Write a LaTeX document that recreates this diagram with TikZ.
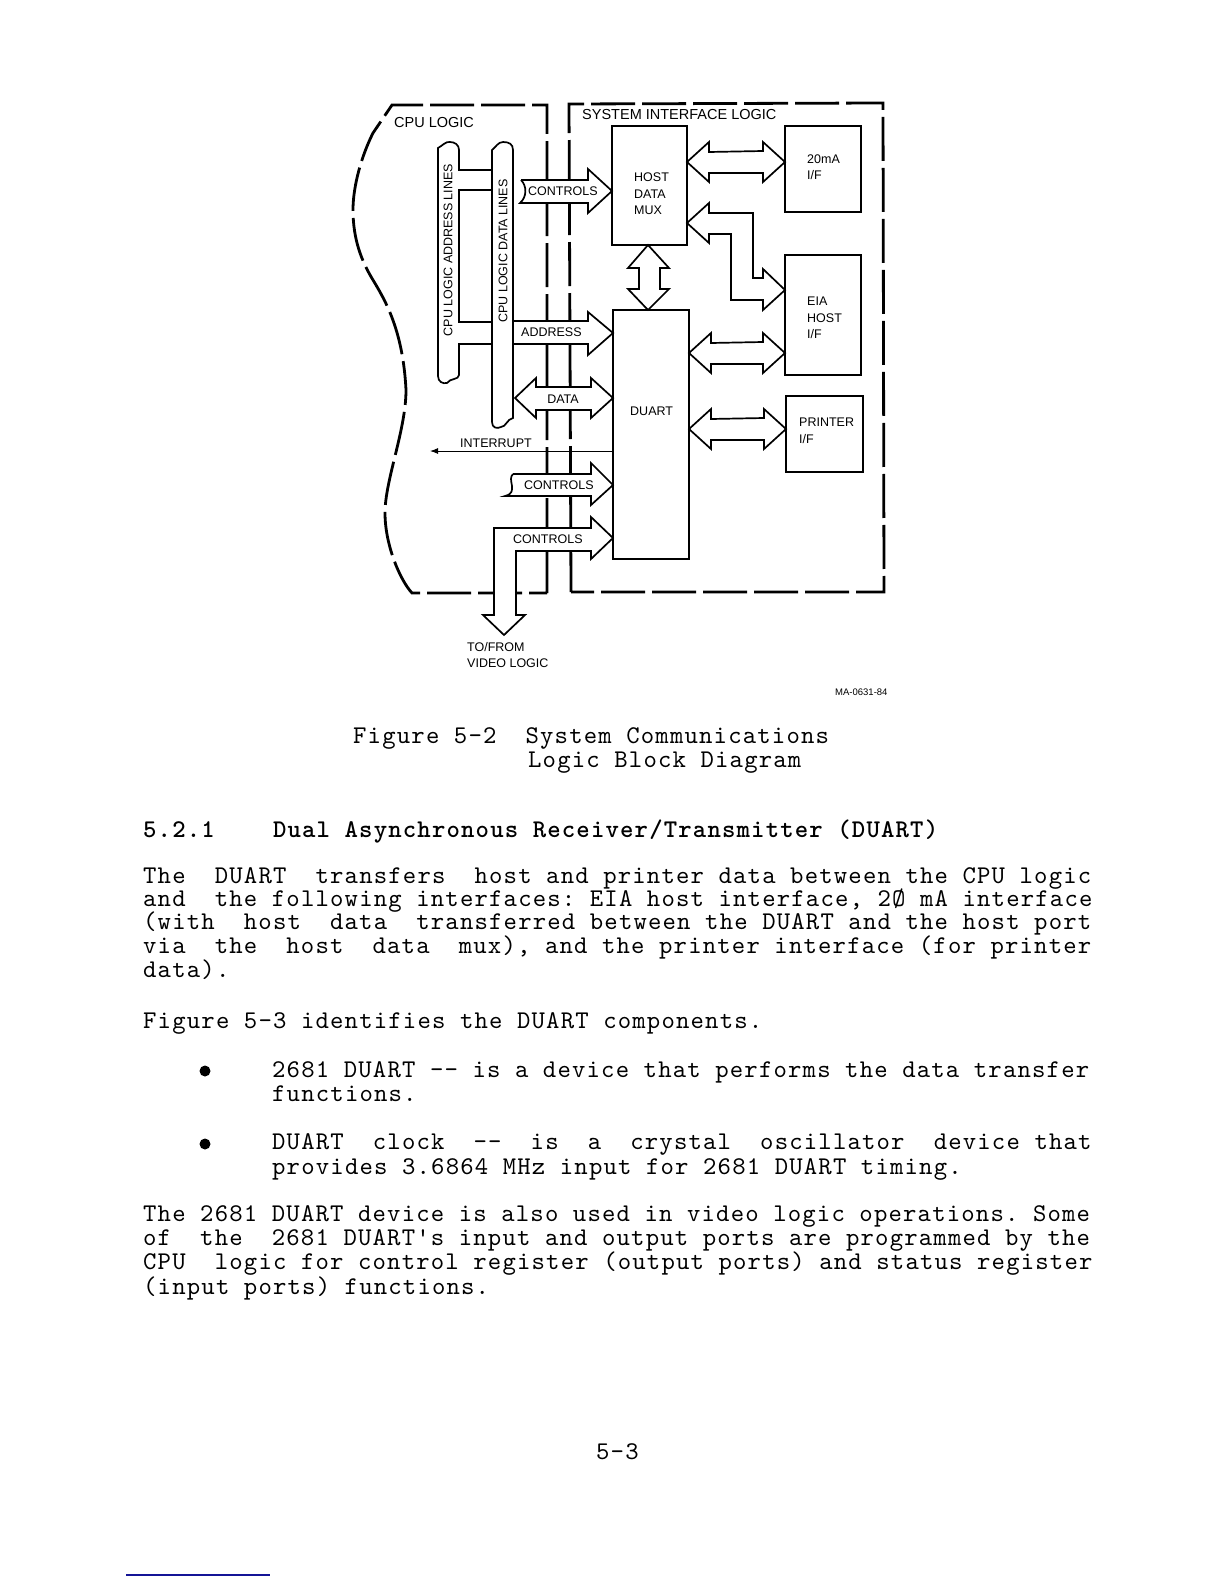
\documentclass[tikz,border=0pt]{standalone}
\usepackage{fontspec}
\setsansfont{Liberation Sans}
\setmonofont{lmmono10-regular.otf}[BoldFont=lmmonolt10-bold.otf,LetterSpace=4.6]
\usetikzlibrary{calc,arrows.meta}
\definecolor{pageline}{RGB}{20,20,150}

% double headed horizontal bus between two named points
\newcommand{\dblbus}[2]{
\draw[bus] (#1) -- ++(22,-20) -- ++(0,10) -- ($(#2)+(-22,-11)$) -- ++(0,-9) -- (#2) -- ++(-22,20) -- ++(0,-9) -- ($(#1)+(22,11)$) -- ++(0,9) -- cycle;
}

\begin{document}
\begin{tikzpicture}[x=1pt,y=-1pt]
\tikzstyle{block}=[draw,line width=1.5pt,anchor=north west,inner sep=0,outer sep=0]
\tikzstyle{bus}=[draw,fill=white,line width=1.7pt]
\tikzstyle{edge}=[line width=2.8pt,dash pattern=on 44pt off 7pt]
\tikzstyle{lbl}=[inner sep=0,anchor=west,align=left,font=\sffamily\fontsize{12.5}{16.5}\selectfont]
\tikzstyle{title}=[lbl,font=\sffamily\fontsize{14.5}{16}\selectfont]
\tikzstyle{para}=[inner sep=0,anchor=base west,text height=15pt,text depth=4pt,font=\ttfamily\fontsize{25.5}{28}\selectfont]
\tikzstyle{head}=[para,font=\ttfamily\bfseries\fontsize{25.5}{28}\selectfont]
\tikzstyle{dot}=[circle,fill,inner sep=0,minimum size=11pt]
\useasboundingbox (0,0) rectangle (1224,1584);

% logic boundaries
\draw[edge] (547,593) -- (547,105) -- (392,105) -- (373,133) .. controls (362,155) and (353,185) .. (353,210)
  .. controls (353,240) and (362,262) .. (373,280) .. controls (385,300) and (403,330) .. (406,390)
  .. controls (406,430) and (385,480) .. (385,513) .. controls (385,545) and (400,580) .. (412,593) -- cycle;
\draw[edge] (571,592) -- (569,104) -- (883,103) -- (884,592) -- cycle;

% blocks
\node[block,minimum width=75pt,minimum height=119pt] (mux) at (612,126) {};
\node[block,minimum width=76pt,minimum height=249pt,line width=1.2pt] (duart) at (613,310) {};
\node[block,minimum width=76pt,minimum height=86pt] (ifma) at (785,126) {};
\node[block,minimum width=76pt,minimum height=120pt] (ifeia) at (785,255) {};
\node[block,minimum width=77pt,minimum height=76pt] (ifprn) at (786,396) {};

% buses on the right
\coordinate (muxA) at (mux.east |- 0,162);
\coordinate (maA) at (ifma.west |- 0,162);
\coordinate (duA) at (duart.east |- 0,353);
\coordinate (eiA) at (ifeia.west |- 0,353);
\coordinate (duB) at (duart.east |- 0,429);
\coordinate (prB) at (ifprn.west |- 0,429);
\dblbus{muxA}{maA}
\dblbus{duA}{eiA}
\dblbus{duB}{prB}
\coordinate (muxB) at (mux.east |- 0,223);
\coordinate (eiB) at (ifeia.west |- 0,290);
\draw[bus] (muxB) -- ++(22,-20) -- ++(0,10) -- (753,213) -- (753,278) -- (763,278) -- (763,269) -- (eiB)
  -- (763,310) -- (763,300) -- (731,300) -- (731,234) -- (709,234) -- (709,243) -- cycle;
\coordinate (muxC) at (mux.south -| 648,0);
\coordinate (duC) at (duart.north -| 648,0);
\draw[bus] (muxC) -- (669,268) -- (660,268) -- (660,289) -- (669,289) -- (duC) -- (628,289) -- (639,289) -- (639,268) -- (628,268) -- cycle;

% address lines
\draw[bus] (438,148) .. controls (442,146) and (446,141) .. (450,142) .. controls (455,142) and (459,145) .. (459,150)
  -- (459,170) -- (500,170) -- (500,190) -- (459,190) -- (459,322) -- (500,322) -- (500,344) -- (459,344) -- (459,375)
  .. controls (459,380) and (450,378) .. (447,383) .. controls (443,384) and (438,382) .. (438,376) -- cycle;

% buses on the left
\coordinate (duD) at (duart.west |- 0,333);
\draw[bus] (505,321) -- (588,321) -- (588,312) -- (duD) -- (588,355) -- (588,344) -- (505,344);
\coordinate (muxD) at (mux.west |- 0,191);
\draw[bus] (521,180) -- (588,180) -- (588,169) -- (muxD) -- (588,213) -- (588,203) -- (520,203)
  .. controls (527,197) and (527,186) .. (521,180);
\coordinate (duE) at (duart.west |- 0,398);
\draw[bus] (515,398) -- (536,378) -- (536,387) -- (591,387) -- (591,378) -- (duE) -- (591,418) -- (591,410) -- (536,410) -- (536,418) -- cycle;
\coordinate (duF) at (duart.west |- 0,485);
\draw[bus] (513,474) -- (591,474) -- (591,463) -- (duF) -- (591,505) -- (591,496) -- (505,496)
  .. controls (513,494) and (512,490) .. (512,486) .. controls (511,480) and (510,477) .. (513,474);
\coordinate (duG) at (duart.west |- 0,538);
\draw[bus] (494,528) -- (591,528) -- (591,517) -- (duG) -- (591,559) -- (591,551) -- (516,551) -- (516,615) -- (525,615)
  -- (504,635) -- (483,615) -- (494,615) -- cycle;

% data lines
\draw[bus] (492,150) .. controls (496,147) and (498,142) .. (503,142) .. controls (509,142) and (513,144) .. (513,150)
  -- (513,418) .. controls (507,419) and (506,427) .. (501,427) .. controls (497,429) and (492,428) .. (492,422) -- cycle;

% interrupt
\coordinate (intend) at (430,451);
\draw[line width=1pt,-{Latex[length=8pt,width=6pt]}] (duart.west |- intend) -- (intend);

% labels
\node[title] (cpulbl) at (394,123) {CPU LOGIC};
\node[title] (syslbl) at (582,115) {SYSTEM INTERFACE LOGIC};
\node[lbl,rotate=90,anchor=center] (adrlbl) at (448,250) {CPU LOGIC ADDRESS LINES};
\node[lbl,rotate=90,anchor=center] (datlbl) at (503,251) {CPU LOGIC DATA LINES};
\node[lbl] (ctl1) at (528,191) {CONTROLS};
\node[lbl] (adr) at (521,332) {ADDRESS};
\node[lbl,anchor=center] (dat) at (563,399) {DATA};
\node[lbl] (int) at (460,443) {INTERRUPT};
\node[lbl] (ctl2) at (524,485) {CONTROLS};
\node[lbl] (ctl3) at (513,539) {CONTROLS};
\node[lbl] (tof) at (467,655) {TO/FROM\\VIDEO LOGIC};
\node[lbl] (muxlbl) at (634,194) {HOST\\DATA\\MUX};
\node[lbl] (dulbl) at (630,411) {DUART};
\node[lbl] (malbl) at (807,167) {20mA\\I/F};
\node[lbl] (eilbl) at (807,318) {EIA\\HOST\\I/F};
\node[lbl] (prlbl) at (799,431) {PRINTER\\I/F};
\node[lbl,font=\sffamily\fontsize{9.5}{10}\selectfont] (dwg) at (835,692) {MA-0631-84};

% page text
\node[para] (cap1) at (353,743) {Figure 5-2~~System Communications};
\node[para] (cap2) at (528,767) {Logic Block Diagram};
\node[head] (sec) at (143,837) {5.2.1~~~~Dual Asynchronous Receiver/Transmitter (DUART)};
\node[para] (p1a) at (143,883) {The~~DUART~~transfers~~host and printer data between the CPU logic};
\node[para] (p1b) at (143,906) {and~~the following interfaces: EIA host interface, 2Ø mA interface};
\node[para] (p1c) at (143,929) {(with~~host~~data~~transferred between the DUART and the host port};
\node[para] (p1d) at (143,953) {via~~the~~host~~data~~mux), and the printer interface (for printer};
\node[para] (p1e) at (143,977) {data).};
\node[para] (p2) at (143,1028) {Figure 5-3 identifies the DUART components.};
\node[dot] (bul1) at (205,1071) {};
\node[para] (b1a) at (272,1077) {2681 DUART -{}- is a device that performs the data transfer};
\node[para] (b1b) at (272,1101) {functions.};
\node[dot] (bul2) at (205,1144) {};
\node[para] (b2a) at (272,1149) {DUART~~clock~~-{}-~~is~~a~~crystal~~oscillator~~device that};
\node[para] (b2b) at (272,1174) {provides 3.6864 MHz input for 2681 DUART timing.};
\node[para] (p3a) at (143,1221) {The 2681 DUART device is also used in video logic operations. Some};
\node[para] (p3b) at (143,1245) {of~~the~~2681 DUART's input and output ports are programmed by the};
\node[para] (p3c) at (143,1269) {CPU~~logic for control register (output ports) and status register};
\node[para] (p3d) at (143,1294) {(input ports) functions.};
\node[para] (folio) at (596,1459) {5-3};

\draw[pageline,line width=1.2pt] (126,1575) -- (270,1575);
\end{tikzpicture}
\end{document}
